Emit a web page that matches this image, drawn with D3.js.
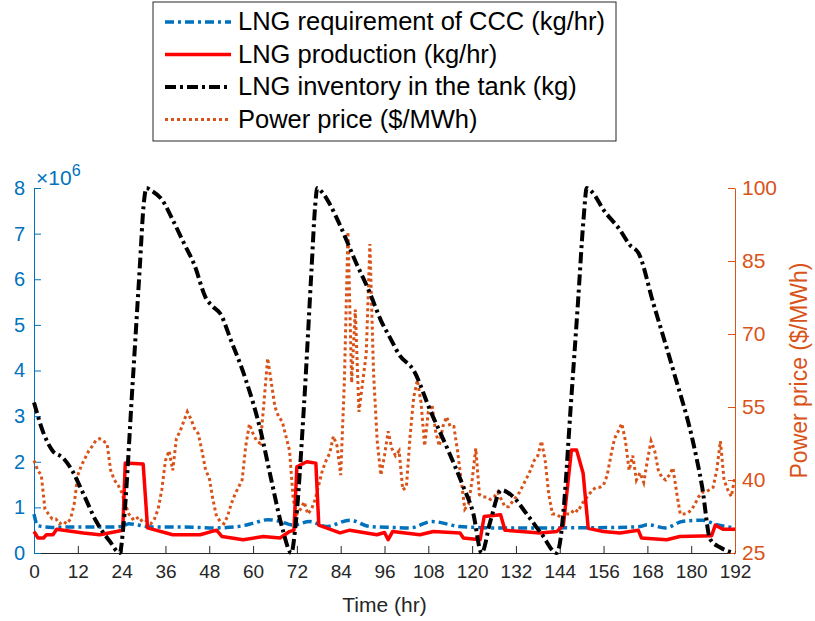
<!DOCTYPE html>
<html>
<head>
<meta charset="utf-8">
<script src="https://cdn.jsdelivr.net/npm/d3@7"></script>
<style>
  body { margin: 0; background: #fff; }
  svg text { font-family: "Liberation Sans", Arial, Helvetica, sans-serif; }
</style>
</head>
<body>
<div id="chart"></div>
<script>
// LNG requirement / production / inventory vs power price, 192 hr horizon

// x tick labels (hr)
var hourTicks = [0, 12, 24, 36, 48, 60, 72, 84, 96, 108, 120, 132, 144, 156, 168, 180, 192];
var leftTicks = [0, 1, 2, 3, 4, 5, 6, 7, 8];          // x 10^6
var rightTicks = [25, 40, 55, 70, 85, 100];

// LNG requirement of CCC (kg/hr, in 10^6)
var reqHours  = [0, 1, 5, 10, 20, 24, 26, 28, 32, 40, 50, 55, 60, 64, 67, 71, 75.5, 80, 86.5, 92, 98, 103, 109, 116.5, 121, 126, 140, 160, 166, 168, 173, 177.5, 183, 187, 192];
var reqValues = [0.85, 0.6, 0.56, 0.57, 0.57, 0.58, 0.64, 0.62, 0.57, 0.57, 0.55, 0.57, 0.65, 0.73, 0.7, 0.61, 0.69, 0.58, 0.72, 0.58, 0.56, 0.55, 0.69, 0.58, 0.56, 0.55, 0.55, 0.56, 0.58, 0.62, 0.55, 0.69, 0.72, 0.62, 0.55];

// LNG production (kg/hr, in 10^6)
var prodHours  = [0, 1.1, 2.6, 3.4, 5.2, 6.2, 13.5, 18, 22.6, 24.3, 25, 29.9, 31.1, 38, 45.5, 50, 51.5, 57.3, 62.8, 67.4, 70, 71.2, 72, 74.7, 77.2, 78, 83.8, 86.5, 93.9, 96, 97, 98.2, 105.7, 109.4, 116.7, 117.6, 122.2, 123.3, 127.8, 129, 138.6, 143.2, 145, 147.2, 148.6, 150.4, 151.8, 155.9, 160.5, 165.5, 166.4, 173.3, 176.9, 185.6, 186.6, 188.7, 192];
var prodValues = [0.47, 0.33, 0.33, 0.4, 0.4, 0.52, 0.44, 0.4, 0.47, 0.5, 1.97, 1.95, 0.55, 0.4, 0.4, 0.5, 0.36, 0.29, 0.36, 0.33, 0.47, 0.5, 1.89, 2.0, 1.97, 0.61, 0.44, 0.5, 0.4, 0.45, 0.29, 0.47, 0.4, 0.47, 0.44, 0.33, 0.29, 0.8, 0.84, 0.5, 0.44, 0.47, 0.61, 2.26, 2.26, 1.75, 0.54, 0.47, 0.44, 0.5, 0.33, 0.29, 0.36, 0.38, 0.61, 0.52, 0.52];

// LNG inventory in the tank (kg, in 10^6)
var invHours  = [0, 2.5, 5, 8, 10.5, 13.5, 17, 20.8, 23.5, 24.5, 27, 29, 30, 30.8, 32, 35, 38, 41, 44, 47, 49, 51, 54, 58, 62, 65, 68, 70.5, 71.5, 74, 76, 77, 77.6, 79, 81, 84, 88, 92, 95, 97.5, 100, 104, 108.5, 113, 117.6, 120.3, 122.6, 125, 128, 131, 135, 139, 143.2, 144, 145, 147, 149, 150.5, 151.4, 153, 156, 160.5, 163.2, 165.6, 169.6, 175.1, 180.6, 183, 185.2, 188, 192];
var invValues = [3.3, 2.65, 2.25, 2.08, 1.8, 1.3, 0.7, 0.25, 0, 0.6, 3.7, 6.3, 7.6, 8.0, 7.95, 7.75, 7.3, 6.8, 6.3, 5.6, 5.4, 5.25, 4.65, 3.8, 2.7, 1.6, 0.55, 0, 0.5, 3.3, 6.2, 7.6, 8.0, 7.9, 7.65, 7.15, 6.4, 5.7, 5.1, 4.72, 4.35, 4.0, 3.13, 2.33, 1.45, 0.87, 0, 0.7, 1.38, 1.25, 0.85, 0.42, 0, 0.2, 0.9, 3.2, 5.5, 7.3, 8.0, 7.9, 7.52, 7.08, 6.75, 6.57, 5.48, 4.0, 2.4, 1.45, 0.3, 0.12, 0];

// Power price ($/MWh), one value per hour 0..192
var price = [44, 42, 41, 34, 33, 32, 32, 31, 31.5, 31, 32, 35, 41, 43, 44.5, 46, 47, 48.2, 48.5, 48,
  47.5, 42, 40, 39, 37.5, 35, 33, 32, 32.5, 31.5, 32, 31.5, 31, 32, 34, 38, 44, 46, 42, 48.5,
  50, 52, 54, 52.5, 50.5, 49.5, 46, 42, 40.5, 36, 32.5, 31.5, 31, 32.5, 35, 37, 38.5, 40, 47, 51.5,
  49.5, 48, 47.5, 56, 65, 60, 55, 53, 52, 49, 46, 36, 33, 34, 35.5, 33, 34, 36, 39, 42,
  44, 45.5, 49, 47, 41, 60, 91, 60, 75, 54, 60, 66, 88.5, 62, 48, 41, 45, 50, 46.5, 45,
  46, 38, 38.5, 49, 57, 60.5, 56, 47, 54, 55.5, 50, 47, 51, 53, 51, 51, 46, 40, 34, 35,
  40, 46.5, 37, 36.5, 36.5, 36, 36.5, 37.5, 36, 34.5, 34.5, 35.5, 36.5, 37.5, 39, 40.5, 42, 44, 45, 48,
  44, 37, 33, 33, 32.5, 32, 33, 33, 34, 33.5, 35, 36, 37, 38, 38.5, 38.5, 39, 41, 45, 48.5,
  50, 51.6, 48, 42, 45, 40, 41.5, 39.5, 44, 48, 46, 42, 40.5, 40, 41, 42.5, 37.5, 33, 33, 33.2,
  33.8, 35, 36.5, 37.5, 37.5, 38, 38.5, 42, 48, 40, 38, 36.6, 40.7];

var blue = "#0072BD", orange = "#D95319", red = "#FF0000", black = "#000000", gray = "#262626";

var width = 815, height = 621;
var margin = {top: 188, right: 80, bottom: 68, left: 34};

var svg = d3.select("#chart").append("svg")
    .attr("width", width)
    .attr("height", height);

var x = d3.scaleLinear().domain([0, 192]).range([margin.left, width - margin.right]);
var yL = d3.scaleLinear().domain([0, 8e6]).range([height - margin.bottom, margin.top]);
var yR = d3.scaleLinear().domain([25, 100]).range([height - margin.bottom, margin.top]);

function pairs(hrs, vals) {
    return hrs.map(function(h, i) { return [h, vals[i] * 1e6]; });
}

var lineL = d3.line().x(function(d) { return x(d[0]); }).y(function(d) { return yL(d[1]); });
var smoothL = d3.line().curve(d3.curveMonotoneX)
    .x(function(d) { return x(d[0]); }).y(function(d) { return yL(d[1]); });
var lineR = d3.line().x(function(d, i) { return x(i); }).y(function(d) { return yR(d); });

// axes
var xAxis = svg.append("g")
    .attr("transform", "translate(0," + yL(0) + ")")
    .call(d3.axisBottom(x).tickValues(hourTicks).tickSize(-7).tickSizeOuter(0).tickPadding(12));
xAxis.selectAll("path, line").attr("stroke", gray);
xAxis.selectAll("text").attr("fill", gray).style("font-size", "19px");

var leftAxis = svg.append("g")
    .attr("transform", "translate(" + x(0) + ",0)")
    .call(d3.axisLeft(yL).tickValues(leftTicks.map(function(v) { return v * 1e6; }))
        .tickFormat(function(v) { return v / 1e6; })
        .tickSize(-7).tickSizeOuter(0).tickPadding(9));
leftAxis.selectAll("path, line").attr("stroke", blue);
leftAxis.selectAll("text").attr("fill", blue).style("font-size", "20px");

var rightAxis = svg.append("g")
    .attr("transform", "translate(" + x(192) + ",0)")
    .call(d3.axisRight(yR).tickValues(rightTicks).tickSize(-7).tickSizeOuter(0).tickPadding(7));
rightAxis.selectAll("path, line").attr("stroke", orange);
rightAxis.selectAll("text").attr("fill", orange).style("font-size", "21px");

// x10^6 exponent label
var expo = svg.append("text")
    .attr("x", x(0) + 2)
    .attr("y", yL(8e6) - 3)
    .attr("fill", blue)
    .style("font-size", "21px");
expo.append("tspan").text("\u00d710");
expo.append("tspan").attr("dy", -9).style("font-size", "16px").text("6");

svg.append("text")
    .attr("x", (x(0) + x(192)) / 2)
    .attr("y", 612)
    .attr("text-anchor", "middle")
    .attr("fill", gray)
    .style("font-size", "21px")
    .text("Time (hr)");

svg.append("text")
    .attr("transform", "translate(807," + (yR(25) + yR(100)) / 2 + ") rotate(-90)")
    .attr("text-anchor", "middle")
    .attr("fill", orange)
    .style("font-size", "23px")
    .text("Power price ($/MWh)");

// series
var series = [
    {name: "LNG requirement of CCC (kg/hr)", color: blue, w: 3.5, dash: "9,4,3,4"},
    {name: "LNG production (kg/hr)", color: red, w: 3.5, dash: null},
    {name: "LNG inventory in the tank (kg)", color: black, w: 4, dash: "11,4,3,4"},
    {name: "Power price ($/MWh)", color: orange, w: 3, dash: "3,3"}
];

var plot = svg.append("g");

plot.append("path")
    .datum(price)
    .attr("d", lineR)
    .attr("fill", "none")
    .attr("stroke", orange)
    .attr("stroke-width", series[3].w)
    .attr("stroke-dasharray", series[3].dash);

plot.append("path")
    .datum(pairs(reqHours, reqValues))
    .attr("d", smoothL)
    .attr("fill", "none")
    .attr("stroke", blue)
    .attr("stroke-width", series[0].w)
    .attr("stroke-dasharray", series[0].dash);

plot.append("path")
    .datum(pairs(prodHours, prodValues))
    .attr("d", lineL)
    .attr("fill", "none")
    .attr("stroke", red)
    .attr("stroke-width", series[1].w)
    .attr("stroke-linejoin", "round");

plot.append("path")
    .datum(pairs(invHours, invValues))
    .attr("d", smoothL)
    .attr("fill", "none")
    .attr("stroke", black)
    .attr("stroke-width", series[2].w)
    .attr("stroke-dasharray", series[2].dash);

// legend
var legend = svg.append("g").attr("transform", "translate(153,2)");
legend.append("rect")
    .attr("width", 463).attr("height", 139)
    .attr("fill", "#fff").attr("stroke", gray).attr("stroke-width", 1);

var item = legend.selectAll(".item")
    .data(series)
    .enter()
    .append("g")
    .attr("class", "item")
    .attr("transform", function(d, i) { return "translate(0," + (20 + i * 32.5) + ")"; });

item.append("line")
    .attr("x1", 12).attr("x2", 78)
    .attr("stroke", function(d) { return d.color; })
    .attr("stroke-width", function(d) { return d.w; })
    .attr("stroke-dasharray", function(d) { return d.dash; });

item.append("text")
    .attr("x", 85)
    .attr("y", 8)
    .attr("fill", black)
    .style("font-size", "25.5px")
    .text(function(d) { return d.name; });
</script>
</body>
</html>
